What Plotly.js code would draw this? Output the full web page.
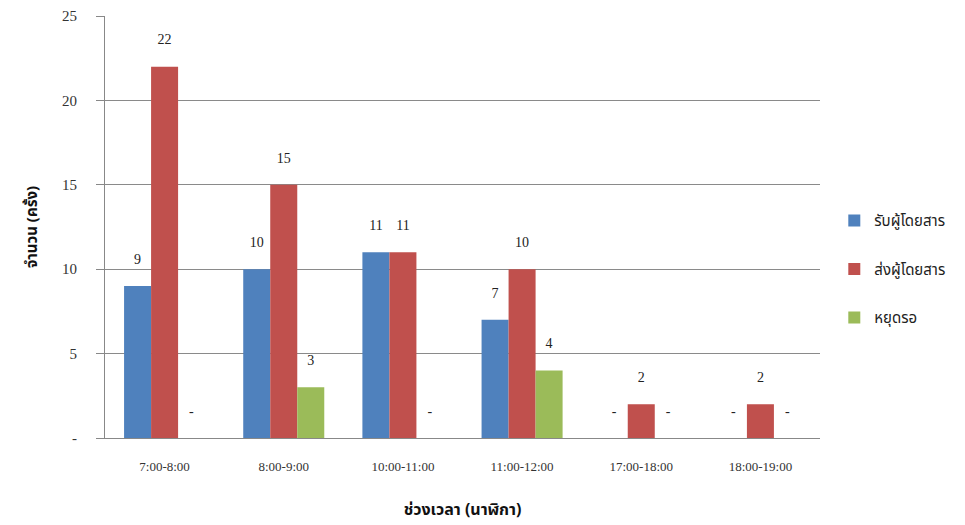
<!DOCTYPE html>
<html>
<head>
<meta charset="utf-8">
<script src="https://cdn.plot.ly/plotly-3.0.1.min.js"></script>
<style>
  html, body { margin: 0; padding: 0; background: #fff; }
  #chart { width: 965px; height: 525px; }
</style>
</head>
<body>
<div id="chart"></div>
<script>
// Time slots (x categories)
const timeSlots = ['7:00-8:00', '8:00-9:00', '10:00-11:00', '11:00-12:00', '17:00-18:00', '18:00-19:00'];

// Counts per activity in each slot
const pickUp = [9, 10, 11, 7, 0, 0];     // รับผู้โดยสาร
const dropOff = [22, 15, 11, 10, 2, 2];  // ส่งผู้โดยสาร
const waiting = [0, 3, 0, 4, 0, 0];      // หยุดรอ

const seriesNames = ['รับผู้โดยสาร', 'ส่งผู้โดยสาร', 'หยุดรอ'];

// Y axis ticks; zero is written as a dash
const yTickVals = [0, 5, 10, 15, 20, 25];
const yTickText = ['-', '5', '10', '15', '20', '25'];

const colors = ['#4F81BD', '#C0504D', '#9BBB59'];
const serif = '"Liberation Serif", "Times New Roman", serif';
const thai = '"Noto Sans Thai", "Noto Sans Thai UI", "Noto Sans", "DejaVu Sans", sans-serif';

// Data labels sit a short gap above each bar; zero values show a dash
const labelOf = v => (v === 0 ? '-' : String(v)) + '<br><span style="font-size:4px"> </span>';

function barTrace(values, i) {
  return {
    type: 'bar',
    name: seriesNames[i],
    legendgroup: 'g' + i,
    x: timeSlots,
    y: values,
    marker: { color: colors[i] },
    text: values.map(labelOf),
    textposition: 'outside',
    textfont: { family: serif, size: 14, color: '#222' },
    cliponaxis: false,
    hoverinfo: 'x+y+name'
  };
}

const data = [pickUp, dropOff, waiting].map(barTrace);

const layout = {
  width: 965,
  height: 525,
  margin: { l: 105, r: 145, t: 16, b: 87 },
  paper_bgcolor: '#fff',
  plot_bgcolor: '#fff',
  barmode: 'group',
  bargap: 0.32,
  bargroupgap: 0,
  showlegend: true,
  legend: {
    x: 1.02, y: 0.4, xanchor: 'left', yanchor: 'middle',
    font: { family: thai, size: 15, color: '#222' },
    tracegroupgap: 26,
    traceorder: 'grouped'
  },
  xaxis: {
    type: 'category',
    showgrid: false,
    showline: true,
    linecolor: '#888',
    linewidth: 1,
    ticks: 'outside',
    ticklen: 16,
    tickcolor: 'rgba(0,0,0,0)',
    tickfont: { family: serif, size: 13, color: '#333' },
    title: {
      text: 'ช่วงเวลา (นาฬิกา)',
      font: { family: thai, size: 16, color: '#111', weight: 'bold' },
      standoff: 31
    }
  },
  yaxis: {
    range: [0, 25],
    tickvals: yTickVals,
    ticktext: yTickText,
    showgrid: true,
    gridcolor: '#8a8a8a',
    gridwidth: 1,
    showline: true,
    linecolor: '#888',
    zeroline: true,
    zerolinecolor: '#888',
    ticks: 'outside',
    ticklen: 8,
    tickcolor: '#888',
    ticklabelstandoff: 16,
    tickfont: { family: serif, size: 15, color: '#333' },
    title: {
      text: 'จำนวน (ครั้ง)',
      font: { family: thai, size: 15, color: '#111', weight: 'bold' },
      standoff: 20
    }
  }
};

Plotly.newPlot('chart', data, layout, { displayModeBar: false, staticPlot: true });
</script>
</body>
</html>
